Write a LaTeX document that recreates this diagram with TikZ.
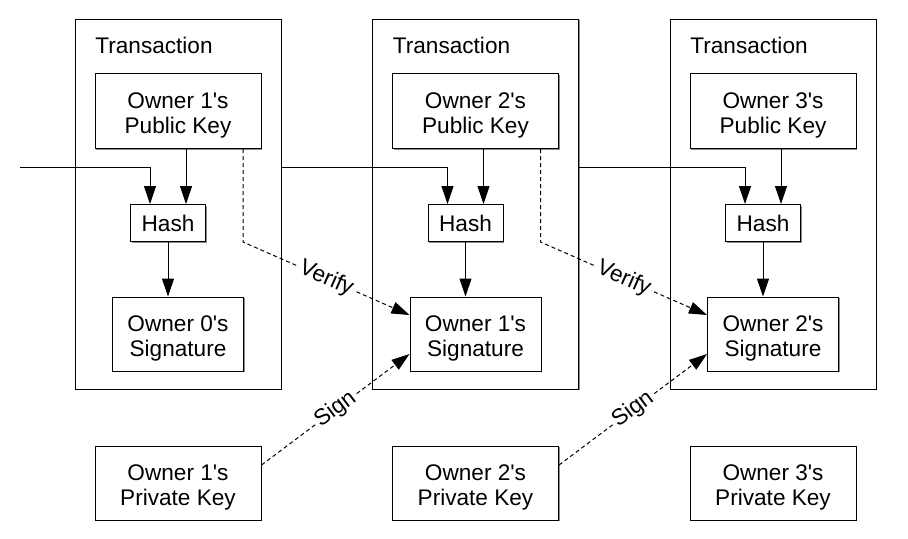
\documentclass[tikz,border=0pt]{standalone}
\usepackage{fontspec}
\setmainfont{Liberation Sans}
\usetikzlibrary{arrows.meta,calc,shadows}

\newcommand{\twoline}[2]{\raisebox{-2.3pt}[\height][\depth]{\begin{tabular}{@{}c@{}}#1\\#2\end{tabular}}}

\tikzset{
  box/.style={draw,fill=white,line width=0.5pt,align=center,inner sep=0pt,
    drop shadow={shadow xshift=0.6pt,shadow yshift=-0.6pt,fill=black!45,opacity=1}},
  link/.style={->,line width=0.5pt},
  dashlink/.style={->,line width=0.5pt,dash pattern=on 2pt off 1.5pt},
  lbl/.style={midway,sloped,fill=white,inner sep=1pt}
}

\begin{document}
\begin{tikzpicture}[>={Triangle[length=9pt,width=6pt]},x=0.5pt,y=-0.5pt,
  font=\fontsize{11.3}{12.5}\selectfont]
  \useasboundingbox (0,0) rectangle (908,538);
  \foreach \i [evaluate=\i as \j using int(\i-1)] in {1,2,3}{
    \pgfmathsetmacro{\o}{297.5*(\i-1)}
    \node[box,minimum width=103pt,minimum height=185pt] (tx\i) at (178+\o,204) {};
    \node[anchor=base west,inner sep=0pt] (title\i) at (95+\o,53) {Transaction};
    \node[box,minimum width=83pt,minimum height=37.5pt] (pub\i) at (178+\o,111)
      {\twoline{Owner \i\textquotesingle s}{Public Key}};
    \node[box,minimum width=37.5pt,minimum height=18.5pt] (hash\i) at (168+\o,223) {Hash};
    \node[box,minimum width=65.5pt,minimum height=37pt] (sig\i) at (178+\o,334)
      {\twoline{Owner \j\textquotesingle s}{Signature}};
    \node[box,minimum width=83pt,minimum height=37pt] (priv\i) at (178+\o,483)
      {\twoline{Owner \i\textquotesingle s}{Private Key}};
  }
  \coordinate (in1) at (20,167);
  \coordinate (in2) at (tx1.east |- in1);
  \coordinate (in3) at (tx2.east |- in1);
  \foreach \i in {1,2,3}{
    \draw[link] (in\i) -| ($(hash\i.north)+(-18,0)$);
    \draw[link] ($(pub\i.south)+(8,0)$) -- ($(hash\i.north)+(18,0)$);
    \draw[link] (hash\i.south) -- (hash\i.south |- sig\i.north);
  }
  \foreach \i [evaluate=\i as \k using int(\i+1)] in {1,2}{
    \draw[dashlink] ($(pub\i.south)+(65,0)$) -- ($(pub\i.south)+(65,93)$)
      -- node[lbl] {Verify} ($(sig\k.west)+(0,-19)$);
    \draw[dashlink] ($(priv\i.east)+(0,-18)$) -- node[lbl] {Sign} ($(sig\k.west)+(0,20)$);
  }
\end{tikzpicture}
\end{document}
